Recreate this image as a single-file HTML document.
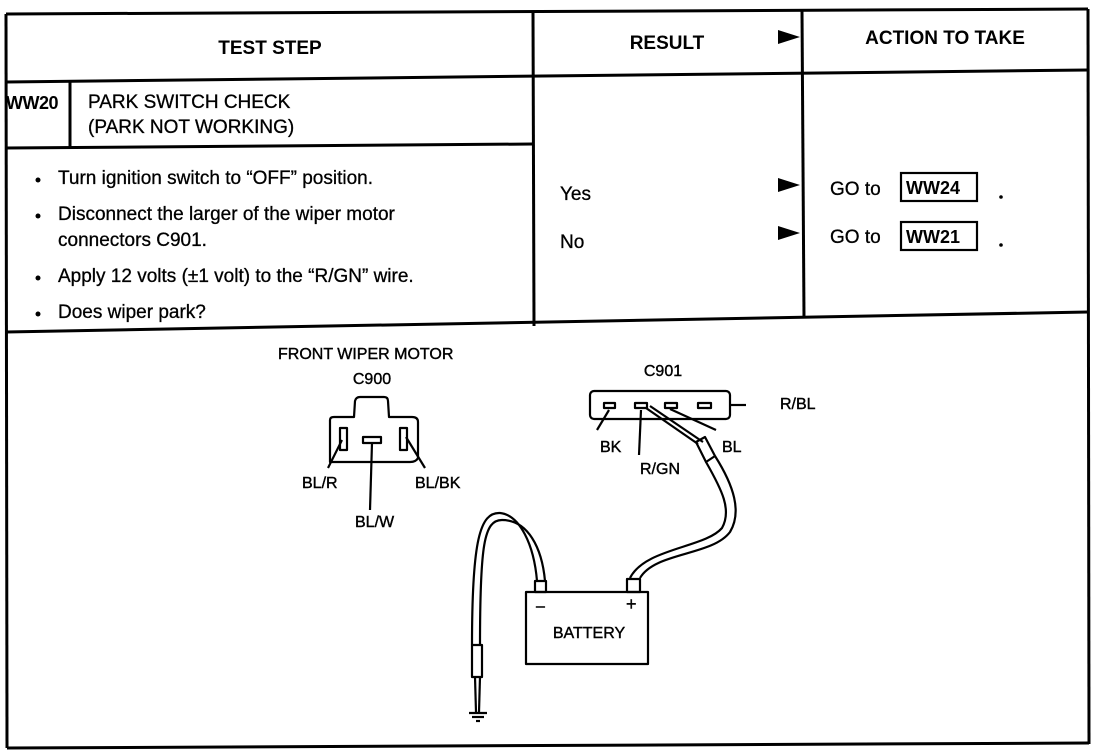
<!DOCTYPE html>
<html><head><meta charset="utf-8"><style>
html,body{margin:0;padding:0;background:#fff;}
svg{display:block;}
text{font-family:"Liberation Sans",Arial,sans-serif;fill:#000;}
</style></head><body>
<svg width="1120" height="752" viewBox="0 0 1120 752" xmlns="http://www.w3.org/2000/svg">
<g stroke="#000" stroke-width="3" fill="none">
 <line x1="6" y1="14" x2="1088" y2="9"/>
 <line x1="6" y1="14" x2="7" y2="748"/>
 <line x1="1088" y1="9" x2="1089" y2="744"/>
 <line x1="7" y1="748" x2="1089" y2="743"/>
 <line x1="6" y1="82" x2="1088" y2="70"/>
 <line x1="533" y1="12" x2="534" y2="326"/>
 <line x1="802" y1="11" x2="804" y2="318"/>
 <line x1="6" y1="148" x2="533" y2="144"/>
 <line x1="70" y1="82" x2="70" y2="147"/>
 <line x1="6" y1="332" x2="1088" y2="312"/>
 <rect x="901" y="173" width="76" height="28" stroke-width="2.2"/>
 <rect x="901" y="222" width="76" height="28" stroke-width="2.2"/>
</g>
<g fill="#000">
 <polygon points="778,30 800,37 778,44"/>
 <polygon points="778,178 800,185 778,192"/>
 <polygon points="778,226 800,233 778,240"/>
 <circle cx="1001" cy="197" r="1.8"/>
 <circle cx="1001" cy="245" r="1.8"/>
</g>
<g font-size="19" font-weight="bold">
 <text x="270" y="54" text-anchor="middle">TEST STEP</text>
 <text x="667" y="49" text-anchor="middle">RESULT</text>
 <text x="945" y="44" text-anchor="middle">ACTION TO TAKE</text>
 <text x="6" y="109" font-size="18" letter-spacing="-0.5">WW20</text>
 <text x="906" y="194" font-size="18">WW24</text>
 <text x="906" y="243" font-size="18">WW21</text>
</g>
<g font-size="19" stroke="#000" stroke-width="0.3">
 <text x="88" y="108">PARK SWITCH CHECK</text>
 <text x="88" y="133">(PARK NOT WORKING)</text>
 <text x="58" y="184">Turn ignition switch to “OFF” position.</text>
 <text x="58" y="220">Disconnect the larger of the wiper motor</text>
 <text x="58" y="246">connectors C901.</text>
 <text x="58" y="282">Apply 12 volts (±1 volt) to the “R/GN” wire.</text>
 <text x="58" y="318">Does wiper park?</text>
 <text x="560" y="200">Yes</text>
 <text x="560" y="248">No</text>
 <text x="830" y="195">GO to</text>
 <text x="830" y="243">GO to</text>
</g>
<g fill="#000">
 <circle cx="38" cy="180" r="2.5"/><circle cx="38" cy="216" r="2.5"/>
 <circle cx="38" cy="278" r="2.5"/><circle cx="38" cy="314" r="2.5"/>
</g>
<g font-size="16" stroke="#000" stroke-width="0.4">
 <text x="278" y="359">FRONT WIPER MOTOR</text>
 <text x="372" y="384" text-anchor="middle">C900</text>
 <text x="663" y="376" text-anchor="middle">C901</text>
 <text x="302" y="488">BL/R</text>
 <text x="355" y="527">BL/W</text>
 <text x="415" y="488">BL/BK</text>
 <text x="780" y="409">R/BL</text>
 <text x="600" y="452">BK</text>
 <text x="640" y="474">R/GN</text>
 <text x="722" y="452">BL</text>
 <text x="589" y="638" text-anchor="middle">BATTERY</text>
 <text x="536" y="611" font-size="16">–</text>
 <text x="626" y="610" font-size="18">+</text>
</g>
<g stroke="#000" stroke-width="2.2" fill="none" stroke-linejoin="round">
 <path d="M330,462 L330,420 Q330,417 334,417 L354,417 L355,401 Q356,397 360,397 L384,397 Q388,397 388,401 L389,417 L412,417 Q418,417 418,422 L418,458 Q416,462 410,462 Z"/>
 <rect x="340" y="428" width="7" height="22"/><rect x="363" y="437" width="18" height="6"/><rect x="400" y="428" width="7" height="22"/>
 <line x1="342" y1="440" x2="328" y2="468"/><line x1="372" y1="443" x2="370" y2="510"/><line x1="406" y1="437" x2="425" y2="468"/>
 <rect x="590" y="391" width="140" height="28" rx="4"/>
 <rect x="604" y="403" width="11" height="5"/><rect x="635" y="403" width="12" height="5"/><rect x="665" y="403" width="12" height="5"/><rect x="698" y="403" width="13" height="5"/>
 <line x1="730" y1="405" x2="746" y2="405"/>
 <line x1="609" y1="410" x2="597" y2="430"/><line x1="641" y1="410" x2="639" y2="455"/><line x1="670" y1="409" x2="716" y2="430"/>
 <line x1="646" y1="408" x2="698" y2="444"/><line x1="650" y1="406" x2="703" y2="442"/>
 <path d="M696,442 L705,437 L715,456 L706,462 Z"/>
 <path d="M706,462 C722,490 732,510 722,528 C705,548 645,548 630,578"/>
 <path d="M715,456 C734,486 742,512 730,532 C712,556 655,552 640,578"/>
 <rect x="526" y="592" width="122" height="72"/>
 <rect x="535" y="581" width="11" height="11"/>
 <rect x="627" y="579" width="13" height="13"/>
 <path d="M537,581 C534,545 520,515 500,513 C480,512 472,540 472,645"/>
 <path d="M545,581 C542,548 528,520 502,520 C484,520 480,545 480,645"/>
 <rect x="472" y="645" width="10" height="32"/>
 <line x1="475" y1="677" x2="476" y2="712"/><line x1="480" y1="677" x2="479" y2="712"/>
 <line x1="469" y1="713" x2="487" y2="713"/><line x1="472" y1="717" x2="484" y2="717"/><line x1="476" y1="721" x2="480" y2="721"/>
</g>
</svg>
</body></html>
